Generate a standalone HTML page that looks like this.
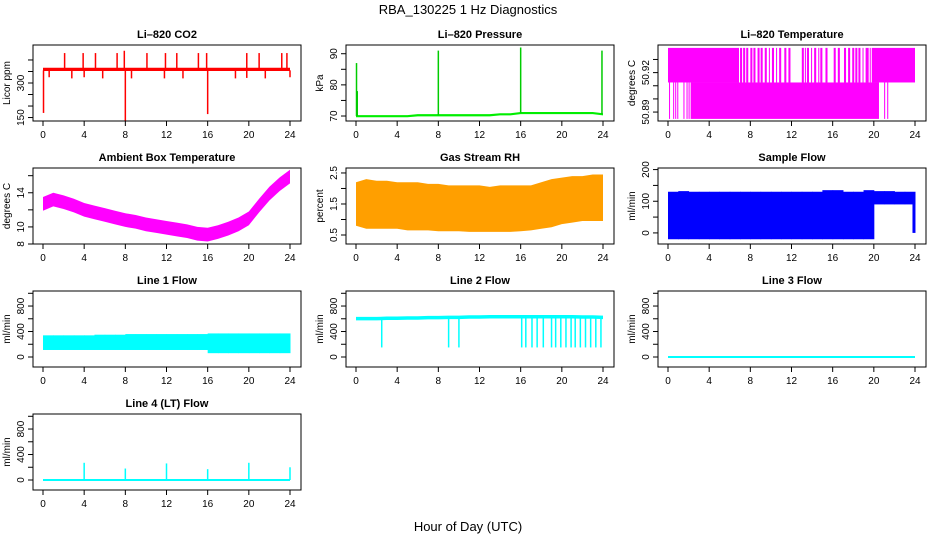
<!DOCTYPE html>
<html><head><meta charset="utf-8"><style>
html,body{margin:0;padding:0;background:#fff;}
svg{display:block;font-family:"Liberation Sans",Arial,sans-serif;}
</style></head><body>
<svg id="c" width="936" height="540" viewBox="0 0 936 540" xmlns="http://www.w3.org/2000/svg">
<text x="468" y="14" text-anchor="middle" font-size="13">RBA_130225  1 Hz Diagnostics</text>
<text x="468" y="531" text-anchor="middle" font-size="13">Hour of Day (UTC)</text>
</svg>
<script>
// ---- data ----
const xTicks = [0,4,8,12,16,20,24];
const co2Base = [360,360,360,360,360,360,360,360,360,360,360,360,360,360,360,360,360,360,360,360,360,360,360,360,360];
const co2SpikeT = [2.1,3.9,5.1,7.2,7.9,10.1,11.9,13.0,15.1,15.9,19.8,21.0,23.2,23.7];
const co2SpikeV = [430,430,430,430,440,430,430,430,430,430,430,430,430,430];
const co2DipT = [0.05,0.6,2.8,4.0,5.8,8.0,8.6,11.8,13.6,16.0,18.7,19.8,21.6,24.0];
const co2DipV = [170,325,320,325,320,135,320,320,320,165,320,322,320,325];
const presBase = [70,70,70,70,70,70,70.3,70.3,70.3,70.3,70.3,70.3,70.3,70.3,70.6,70.6,71,71,71,71,71,71,71,71,70.6];
const presSpikeT = [0.05,0.12,8.0,16.0,23.9];
const presSpikeV = [87,78,91,92,91];
const tempUpStart = [0,7.0,7.3,7.6,8.0,8.3,8.7,9.0,9.4,9.8,10.1,10.5,10.8,11.3,11.7,13.0,13.3,13.5,13.9,14.2,14.6,14.8,15.3,16.1,16.5,17.1,17.5,17.9,18.2,18.5,18.9,19.2,19.6,19.8];
const tempUpEnd   = [6.9,7.2,7.5,7.8,8.2,8.5,8.9,9.2,9.6,9.9,10.3,10.6,11.0,11.5,11.9,13.2,13.4,13.7,14.0,14.4,14.7,15.0,15.5,16.3,16.7,17.3,17.7,18.1,18.4,18.7,19.0,19.5,19.7,24.0];
const tempUpVals = [50.9125,50.9388];
const tempLoStart = [0.1,0.5,0.7,0.9,1.5,1.8,2.0,2.2,21.0,21.3];
const tempLoEnd   = [0.15,0.55,0.75,1.0,1.6,1.9,2.1,20.5,21.1,21.4];
const tempLoVals = [50.8848,50.9125];
const ambCenter = [12.7,13.2,12.9,12.5,12.0,11.7,11.4,11.1,10.8,10.6,10.3,10.1,9.9,9.7,9.5,9.2,9.1,9.4,9.8,10.3,11.0,12.5,13.9,15.0,15.9];
const ambHalf = 0.8;
const rhLow  = [0.8,0.7,0.7,0.7,0.7,0.65,0.65,0.65,0.62,0.62,0.62,0.6,0.6,0.6,0.6,0.6,0.62,0.65,0.7,0.75,0.85,0.9,0.95,0.95,0.95];
const rhHigh = [2.2,2.3,2.25,2.25,2.2,2.2,2.2,2.15,2.15,2.1,2.1,2.1,2.1,2.05,2.1,2.1,2.1,2.1,2.2,2.3,2.35,2.4,2.4,2.45,2.45];
const sfLow  = [-20,-20,-20,-20,-20,-20,-20,-20,-20,-20,-20,-20,-20,-20,-20,-20,-20,-20,-20,-20,90,90,90,90];
const sfHigh = [130,132,130,130,130,130,130,130,130,130,130,130,130,130,130,135,135,130,130,135,132,132,130,130];
const l1Low  = [110,110,110,110,110,110,110,110,110,110,110,110,110,110,110,110,60,60,60,60,60,60,60,60];
const l1High = [340,340,340,340,340,350,350,350,360,360,360,360,360,360,360,360,370,370,370,370,370,370,370,370];
const l2Base = [600,600,600,605,605,610,610,615,615,620,620,625,625,630,630,630,630,630,630,630,630,630,625,625,620];
const l2DropT = [2.5,9.0,10.0,16.1,16.5,17.1,17.6,18.2,19.0,19.4,19.9,20.4,20.9,21.3,21.8,22.3,22.8,23.3,23.8];
const l2DropV = [150,150,150,150,150,150,150,150,150,150,150,150,150,150,150,150,150,150,150];
const l3Base = [0,0,0,0,0,0,0,0,0,0,0,0,0,0,0,0,0,0,0,0,0,0,0,0,0];
const l4Base = [0,0,0,0,0,0,0,0,0,0,0,0,0,0,0,0,0,0,0,0,0,0,0,0,0];
const l4SpikeT = [4,8,12,16,20,24];
const l4SpikeV = [270,180,260,170,270,200];

const NS="http://www.w3.org/2000/svg";
const svg=document.getElementById('c');
function mk(tag,attrs,parent){const e=document.createElementNS(NS,tag);for(const k in attrs)e.setAttribute(k,attrs[k]);(parent||svg).appendChild(e);return e;}

const colL=[33,346,658], rowT=[45,168,291,414], W=268, H=76;
function panel(c,r,title,ylab,ylo,yhi,ticks,labels,name){
  const L=colL[c],T=rowT[r],B=T+H;
  const g=mk('g',{});
  
  
  const P={g,L,T,B,x:t=>L+10+t*(247/24),y:v=>B-(v-ylo)/(yhi-ylo)*H};
  const tt=mk('text',{x:L+W/2,y:T-7,'text-anchor':'middle','font-size':11,'font-weight':'bold'},g);
  tt.textContent=title;
  
  
  const yl=mk('text',{transform:`translate(${L-23},${T+H/2}) rotate(-90)`,'text-anchor':'middle','font-size':10},g);
  yl.textContent=ylab;
  
  
  P.finish=()=>{
    const bx=mk('rect',{x:L,y:T,width:W,height:H,fill:'none',stroke:'#000','stroke-width':1},g);
    
    
    xTicks.forEach(t=>{
      const X=P.x(t);
      mk('line',{x1:X,x2:X,y1:B,y2:B+5,stroke:'#000'},g);
      const tl=mk('text',{x:X,y:B+17,'text-anchor':'middle','font-size':10},g);
      tl.textContent=t;
      
      
    });
    ticks.forEach(v=>{
      const Y=P.y(v);
      mk('line',{x1:L-5,x2:L,y1:Y,y2:Y,stroke:'#000'},g);
    });
    labels.forEach(v=>{
      const Y=P.y(v);
      const yt=mk('text',{transform:`translate(${L-9},${Y}) rotate(-90)`,'text-anchor':'middle','font-size':10},g);
      yt.textContent=v;
      
      
    });
  };
  return P;
}
function clip(P,id){const cp=mk('clipPath',{id:id},P.g);mk('rect',{x:P.L,y:P.T,width:W,height:H},cp);return mk('g',{'clip-path':`url(#${id})`},P.g);}
function hourLine(P,arr,col,w,g,name){
  const pts=arr.map((v,i)=>P.x(i)+','+P.y(v)).join(' ');
  const pl=mk('polyline',{points:pts,fill:'none',stroke:col,'stroke-width':w},g);
  
  
}
function spikes(P,ts,vs,base,col,g,name,w){
  ts.forEach((t,i)=>{
    const b=Array.isArray(base)?base[Math.round(t)]:base;
    const ln=mk('line',{x1:P.x(t),x2:P.x(t),y1:P.y(b),y2:P.y(vs[i]),stroke:col,'stroke-width':w||1.5},g);
    
    
  });
}
function band(P,lo,hi,fill,g,name){
  let pts=lo.map((v,i)=>P.x(i)+','+P.y(v));
  for(let i=hi.length-1;i>=0;i--)pts.push(P.x(i)+','+P.y(hi[i]));
  const pg=mk('polygon',{points:pts.join(' '),fill:fill},g);
  
  
}
function stepBand(P,lo,hi,fill,g,name){
  lo.forEach((v,i)=>{
    const x0=P.x(i),x1=P.x(i+1);
    const r=mk('rect',{x:x0,y:P.y(hi[i]),width:x1-x0+0.5,height:P.y(v)-P.y(hi[i]),fill:fill},g);
    
    
  });
}

// CO2
let P=panel(0,0,'Li–820 CO2','Licor ppm',135,465,[150,200,250,300,350,400],[150,300],'co2');
let g=clip(P,'k1');
band(P,co2Base.map(v=>v-8),co2Base.map(v=>v+6),'#ff0000',g,'co2-band');
spikes(P,co2SpikeT,co2SpikeV,360,'#ff0000',g,'co2-spike');
spikes(P,co2DipT,co2DipV,355,'#ff0000',g,'co2-dip');
P.finish();

// Pressure
P=panel(1,0,'Li–820 Pressure','kPa',68.4,92.8,[70,75,80,85,90],[70,80,90],'pressure');
g=clip(P,'k2');
band(P,presBase.map(v=>v-0.4),presBase.map(v=>v+0.3),'#00ee00',g,'pressure-band');
spikes(P,presSpikeT,presSpikeV,presBase,'#00cc00',g,'pressure-spike');
P.finish();

// Temperature
P=panel(2,0,'Li–820 Temperature','degrees C',50.8832,50.941,[50.89,50.90,50.91,50.92,50.93],['50.89','50.92'],'li820-temp');
g=clip(P,'k3');
tempUpStart.forEach((s,i)=>{const r=mk('rect',{x:P.x(s),y:P.y(tempUpVals[1]),width:Math.max(1,P.x(tempUpEnd[i])-P.x(s)),height:P.y(tempUpVals[0])-P.y(tempUpVals[1]),fill:'#ff00ff'},g);

});
tempLoStart.forEach((s,i)=>{const r=mk('rect',{x:P.x(s),y:P.y(tempLoVals[1]),width:Math.max(1,P.x(tempLoEnd[i])-P.x(s)),height:P.y(tempLoVals[0])-P.y(tempLoVals[1]),fill:'#ff00ff'},g);

});
P.finish();

// Ambient
P=panel(0,1,'Ambient Box Temperature','degrees C',8,16.9,[8,10,12,14,16],[8,10,14],'ambient-temp');
g=clip(P,'k4');
band(P,ambCenter.map(v=>v-ambHalf),ambCenter.map(v=>v+ambHalf),'#ff00ff',g,'ambient-band');
P.finish();

// RH
P=panel(1,1,'Gas Stream RH','percent',0.21,2.66,[0.5,1,1.5,2,2.5],['0.5','1.5','2.5'],'rh');
g=clip(P,'k5');
band(P,rhLow,rhHigh,'#ff9f00',g,'rh-band');
P.finish();

// Sample flow
P=panel(2,1,'Sample Flow','ml/min',-35,205,[0,50,100,150,200],[0,100,200],'sample-flow');
g=clip(P,'k6');
stepBand(P,sfLow,sfHigh,'#0000ff',g,'sample-flow-band');
spikes(P,[23.9],[0],110,'#0000ff',g,'sample-flow-drop',3);
P.finish();

// Line flows
const fl=-157,fh=1036,ft=[0,200,400,600,800,1000],fls=[0,400,800];
P=panel(0,2,'Line 1 Flow','ml/min',fl,fh,ft,fls,'line1-flow');
g=clip(P,'k7');
stepBand(P,l1Low,l1High,'#00ffff',g,'line1-band');
P.finish();

P=panel(1,2,'Line 2 Flow','ml/min',fl,fh,ft,fls,'line2-flow');
g=clip(P,'k8');
band(P,l2Base.map(v=>v-25),l2Base.map(v=>v+30),'#00ffff',g,'line2-band');
spikes(P,l2DropT,l2DropV,l2Base,'#00ffff',g,'line2-drop',1.5);
P.finish();

P=panel(2,2,'Line 3 Flow','ml/min',fl,fh,ft,fls,'line3-flow');
g=clip(P,'k9');
hourLine(P,l3Base,'#00ffff',2,g,'line3-series');
P.finish();

P=panel(0,3,'Line 4 (LT) Flow','ml/min',fl,fh,ft,fls,'line4-flow');
g=clip(P,'k10');
hourLine(P,l4Base,'#00ffff',2,g,'line4-series');
spikes(P,l4SpikeT,l4SpikeV,0,'#00ffff',g,'line4-spike',1.5);
P.finish();
</script>
</body></html>
